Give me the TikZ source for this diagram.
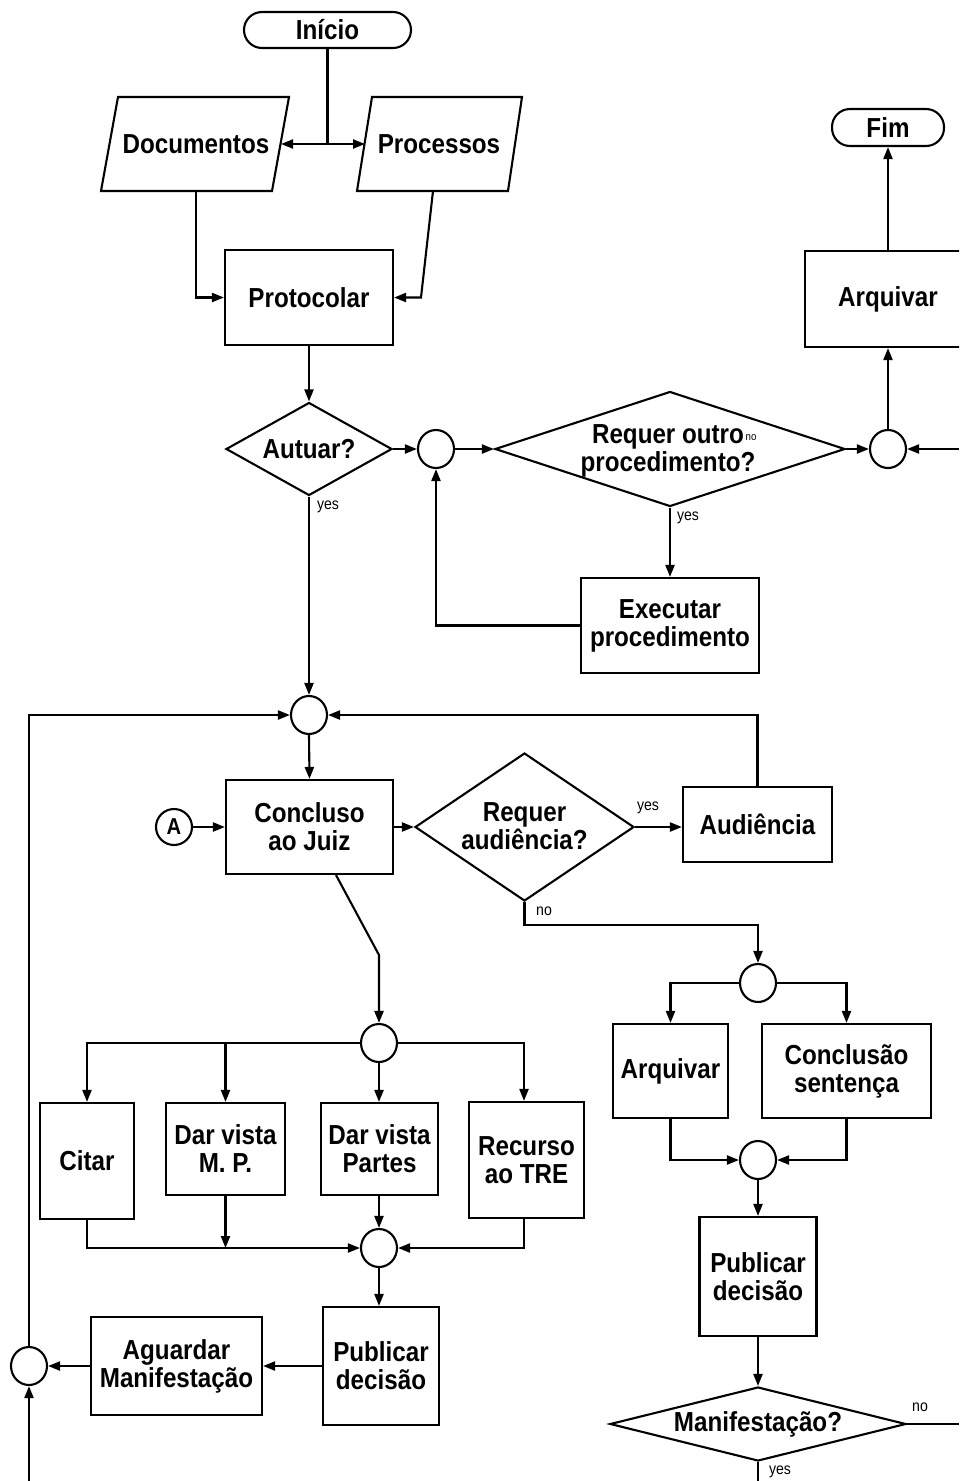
\documentclass[tikz,border=0pt]{standalone}
\usepackage{fontspec}
\setmainfont{Liberation Sans}[FakeStretch=0.88]
\usetikzlibrary{shapes.geometric,arrows.meta}

\begin{document}
\begin{tikzpicture}[x=1pt,y=-1pt,
  every node/.style={font=\fontsize{27.5}{28}\selectfont\bfseries, align=center, inner sep=0pt},
  flow/.style={line width=2.1pt, draw=black},
  arr/.style={flow, -{Triangle[length=12pt,width=9pt]}},
  box/.style={draw, line width=2.1pt, rectangle},
  term/.style={draw, line width=2.1pt, rectangle, rounded corners=18pt},
  dia/.style={draw, line width=2.1pt, diamond},
  junc/.style={draw, line width=2.1pt, ellipse, minimum width=36pt, minimum height=38pt},
  tag/.style={font=\fontsize{16}{17}\selectfont}]

\useasboundingbox (0,0) rectangle (959,1481);
\clip (0,0) rectangle (959,1481);

% ---------- terminals ----------
\node[term, minimum width=167pt, minimum height=36pt] (ini) at (327.5,30) {Início};
\node[term, minimum width=112pt, minimum height=37pt] (fim) at (888,127.5) {Fim};

% ---------- inputs (parallelograms) ----------
\draw[flow] (118,97) -- (289,97) -- (272,191) -- (101,191) -- cycle;
\node (doc) at (196,144) {Documentos};
\draw[flow] (372,97) -- (522,97) -- (508,191) -- (357,191) -- cycle;
\node (pro) at (439,144) {Processos};
\coordinate (docR) at (281,144);
\coordinate (proL) at (365,144);
\coordinate (docB) at (196,191);
\coordinate (proB) at (433,191);
\coordinate (fork) at (327.5,144);

% ---------- upper part ----------
\node[box, minimum width=168pt, minimum height=95pt] (prot) at (309,297.5) {Protocolar};
\node[dia, minimum width=166pt, minimum height=93pt] (aut) at (309,449) {};
\node (autT) at (aut) {Autuar?};
\node[junc] (c1) at (436,449) {};
\node[dia, minimum width=350pt, minimum height=115pt] (req) at (670,449) {};
\node (reqT) at (668,451) {Requer outro\\procedimento?};
\node[tag, font=\fontsize{11}{12}\selectfont] (reqNo) at (751,438) {no};
\node[junc] (c2) at (888,449) {};
\coordinate (rin) at (959,449);
\node[box, minimum width=166pt, minimum height=96pt] (arq1) at (888,299) {Arquivar};
\node[box, minimum width=178pt, minimum height=95pt] (exe) at (670,625.5) {Executar\\procedimento};

% ---------- middle part ----------
\node[junc] (c3) at (309,715) {};
\node[box, minimum width=167pt, minimum height=94pt] (conc) at (309.5,827) {Concluso\\ao Juiz};
\node[circle, draw, line width=2.1pt, minimum size=36pt, font=\fontsize{23}{24}\selectfont\bfseries] (A) at (174,827) {A};
\node[dia, minimum width=219pt, minimum height=148pt] (aud) at (524.5,827) {};
\node (audT) at (524.5,826) {Requer\\audiência?};
\node[box, minimum width=149pt, minimum height=75pt] (audb) at (757.5,824.5) {Audiência};

% ---------- right branch ----------
\node[junc] (c5) at (758,983) {};
\node[box, minimum width=115pt, minimum height=94pt] (arq2) at (670.5,1071) {Arquivar};
\node[box, minimum width=169pt, minimum height=94pt] (sent) at (846.5,1071) {Conclusão\\sentença};
\node[junc] (c6) at (758,1160) {};
\node[box, minimum width=117pt, minimum height=119pt] (pub2) at (758,1276.5) {Publicar\\decisão};
\node[dia, minimum width=296pt, minimum height=74pt] (man) at (758,1424) {};
\node (manT) at (758,1424) {Manifestação?};
\coordinate (rout) at (959,1424);
\coordinate (bout) at (758,1481);

% ---------- left branch ----------
\coordinate (bend) at (379,955);
\node[junc] (c7) at (379,1043) {};
\node[box, minimum width=94pt, minimum height=116pt] (cit) at (87,1161) {Citar};
\node[box, minimum width=119pt, minimum height=92pt] (mp) at (225.5,1149) {Dar vista\\M. P.};
\node[box, minimum width=117pt, minimum height=92pt] (par) at (379.5,1149) {Dar vista\\Partes};
\node[box, minimum width=115pt, minimum height=116pt] (tre) at (526.5,1160) {Recurso\\ao TRE};
\node[junc] (c8) at (379,1248) {};
\node[box, minimum width=116pt, minimum height=118pt] (pub1) at (381,1366) {Publicar\\decisão};
\node[box, minimum width=171pt, minimum height=98pt] (agu) at (176.5,1366) {Aguardar\\Manifestação};
\node[junc] (c4) at (29,1366) {};
\coordinate (lin) at (29,1481);

% ---------- labels ----------
\node[tag] (y1) at (328,507) {yes};
\node[tag] (y2) at (688,518) {yes};
\node[tag] (y3) at (648,808) {yes};
\node[tag] (n1) at (544,911) {no};
\node[tag] (n2) at (920,1407) {no};
\node[tag] (y4) at (780,1472) {yes};

% ---------- connectors ----------
\draw[flow] (ini.south) -- (fork);
\draw[arr] (fork) -- (docR);
\draw[arr] (fork) -- (proL);
\draw[arr] (docB) |- (prot.west);
\draw[arr] (proB) -- (421,297.5) -- (prot.east);
\draw[arr] (prot.south) -- (aut.north);
\draw[arr] (aut.east) -- (c1.west);
\draw[arr] (c1.east) -- (req.west);
\draw[arr] (req.east) -- (c2.west);
\draw[arr] (rin) -- (c2.east);
\draw[arr] (c2.north) -- (arq1.south);
\draw[arr] (arq1.north) -- (fim.south);
\draw[arr] (req.south) -- (exe.north);
\draw[arr] (exe.west) -| (c1.south);

\draw[arr] (aut.south) -- (c3.north);
\draw[arr] (c3.south) -- (conc.north);
\draw[arr] (A.east) -- (conc.west);
\draw[arr] (conc.east) -- (aud.west);
\draw[arr] (aud.east) -- (aud.east -| audb.west);
\draw[arr] (audb.north) |- (c3.east);
\draw[arr] (c4.north) |- (c3.west);

\draw[arr] (aud.south) -- ++(0,23) -| (c5.north);
\draw[arr] (c5.west) -| (arq2.north);
\draw[arr] (c5.east) -| (sent.north);
\draw[arr] (arq2.south) |- (c6.west);
\draw[arr] (sent.south) |- (c6.east);
\draw[arr] (c6.south) -- (pub2.north);
\draw[arr] (pub2.south) -- (man.north);
\draw[flow] (man.east) -- (rout);
\draw[flow] (man.south) -- (bout);

\draw[arr] ([xshift=26.5pt]conc.south) -- (bend) -- (c7.north);
\draw[arr] (c7.west) -| (cit.north);
\draw[arr] (c7.west -| mp.north) -- (mp.north);
\draw[arr] (c7.south) -- (c7.south |- par.north);
\draw[arr] (c7.east) -| ([xshift=-2.5pt]tre.north);
\draw[arr] (cit.south) |- (c8.west);
\draw[arr] (mp.south) -- (mp.south |- c8.west);
\draw[arr] (c8.north |- par.south) -- (c8.north);
\draw[arr] ([xshift=-2.5pt]tre.south) |- (c8.east);
\draw[arr] (c8.south) -- (c8.south |- pub1.north);
\draw[arr] (pub1.west) -- (agu.east);
\draw[arr] (agu.west) -- (c4.east);
\draw[arr] (lin) -- (c4.south);
\end{tikzpicture}
\end{document}
